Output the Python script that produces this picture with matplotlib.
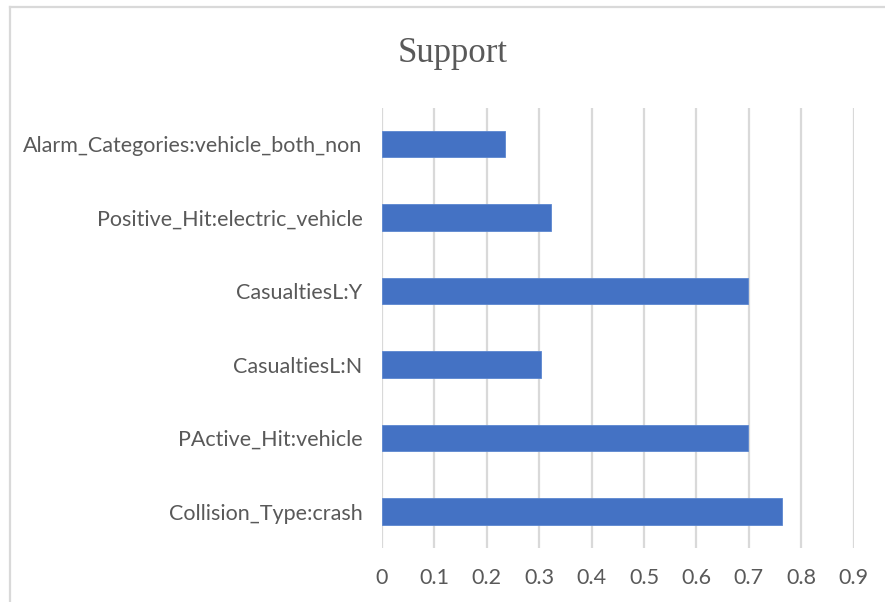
import matplotlib
matplotlib.use("Agg")
import matplotlib.pyplot as plt
from matplotlib import font_manager
from matplotlib.lines import Line2D

# Rule items (bottom to top) and their support values
categories = [
    "Collision_Type:crash",
    "PActive_Hit:vehicle",
    "CasualtiesL:N",
    "CasualtiesL:Y",
    "Positive_Hit:electric_vehicle",
    "Alarm_Categories:vehicle_both_non",
]
support = [0.764, 0.699, 0.303, 0.699, 0.323, 0.235]
x_ticks = [0, 0.1, 0.2, 0.3, 0.4, 0.5, 0.6, 0.7, 0.8, 0.9]
x_tick_labels = ["0", "0.1", "0.2", "0.3", "0.4", "0.5", "0.6", "0.7", "0.8", "0.9"]
title = "Support"

installed = {f.name for f in font_manager.fontManager.ttflist}
if "Lato" in installed:
    label_font, label_size = "Lato", 15.5
else:
    label_font, label_size = "Liberation Sans", 14.5
title_font = "Liberation Serif"

TEXT_GRAY = "#595959"
GRID_GRAY = "#d9d9d9"
BAR_BLUE = "#4472C4"

W, H = 885, 602
fig = plt.figure(figsize=(W / 100, H / 100), dpi=100)
fig.patch.set_facecolor("white")

# chart-area frame along the top and left edges
fig.add_artist(Line2D([10 / W, 10 / W], [0, 1 - 7 / H], color=GRID_GRAY,
                      linewidth=1.6, transform=fig.transFigure))
fig.add_artist(Line2D([10 / W, 1], [1 - 7 / H, 1 - 7 / H], color=GRID_GRAY,
                      linewidth=1.6, transform=fig.transFigure))

left, right = 382 / W, 853.6 / W
bottom, top = 1 - 548.3 / H, 1 - 107.5 / H
ax = fig.add_axes([left, bottom, right - left, top - bottom])

pos = list(range(len(categories)))
ax.barh(pos, support, height=0.36, color=BAR_BLUE, edgecolor="#5b86d0",
        linewidth=0.6, zorder=3)

ax.set_xlim(0, 0.9)
ax.set_ylim(-0.5, len(categories) - 0.5)
ax.set_xticks(x_ticks)
ax.set_xticklabels(x_tick_labels)
ax.set_yticks(pos)
ax.set_yticklabels(categories)

ax.grid(axis="x", color=GRID_GRAY, linewidth=1.6, zorder=0)
ax.grid(axis="y", visible=False)
ax.set_axisbelow(True)
for s in ax.spines.values():
    s.set_visible(False)

ax.tick_params(axis="both", length=0, labelcolor=TEXT_GRAY)
ax.tick_params(axis="x", pad=14)
ax.tick_params(axis="y", pad=14)
for lab in ax.get_xticklabels() + ax.get_yticklabels():
    lab.set_fontfamily([label_font, "DejaVu Sans"])
    lab.set_fontsize(label_size)
    lab.set_fontweight("normal")

fig.text(453 / W, 1 - 53 / H, title, ha="center", va="center",
         fontsize=25, color=TEXT_GRAY, family=[title_font, "DejaVu Serif"])

fig.savefig("out.png", dpi=100, facecolor="white")
